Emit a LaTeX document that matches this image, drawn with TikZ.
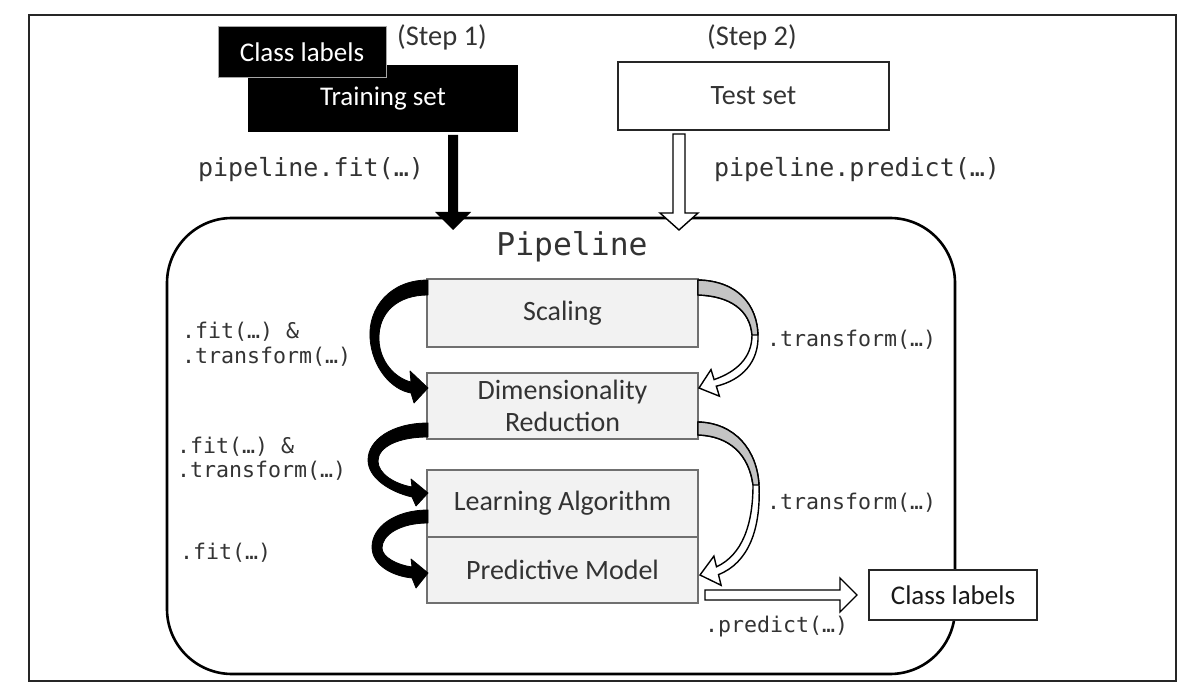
\documentclass[tikz,border=0pt]{standalone}
\usepackage{fontspec}
\setmainfont{Carlito}
\setmonofont{DejaVu Sans Mono}
\usetikzlibrary{calc}
\definecolor{txt}{HTML}{333333}
\definecolor{boxfill}{HTML}{F2F2F2}
\definecolor{boxline}{HTML}{707070}
\definecolor{twistfill}{HTML}{C4C4C4}
\tikzset{
  sanslabel/.style={text=txt, inner sep=0pt, font=\fontsize{28.5}{31}\selectfont},
  stagebox/.style={draw=boxline, fill=boxfill, line width=1.5pt, minimum width=271pt,
     inner sep=0pt, text=txt, font=\fontsize{28}{31}\selectfont, align=center},
  code/.style={font=\ttfamily\fontsize{21.6}{24}\selectfont, text=txt, inner sep=0pt},
  topcode/.style={font=\ttfamily\fontsize{25}{28}\selectfont, text=txt, inner sep=0pt},
  blackarrow/.style={fill=black, draw=black, line width=0.8pt, line join=round},
  hollowarrow/.style={fill=white, draw=black, line width=1.4pt, line join=miter},
  twistpart/.style={fill=twistfill, draw=black, line width=1.4pt, line join=round},
}
\begin{document}
\begin{tikzpicture}[x=1pt,y=-1pt]
\useasboundingbox (0,0) rectangle (1195,692);
% outer frame
\draw[line width=1.6pt, draw=black!85] (29,15) rectangle (1176,681);

% pipeline container
\draw[line width=2.6pt, rounded corners=65pt] (167,218) rectangle (955,674);
\node[font=\ttfamily\fontsize{31.4}{34}\selectfont, text=txt, inner sep=0pt] (pipetitle) at (572,247) {Pipeline};

% input boxes
\node[fill=black, minimum width=270pt, minimum height=67pt, inner sep=0pt, text=white,
      font=\fontsize{27}{29}\selectfont] (train) at (383,98.5) {Training set};
\node[fill=black, draw=black!35, line width=1pt, minimum width=168pt, minimum height=51pt, inner sep=0pt,
      text=white, font=\fontsize{27}{29}\selectfont] (trainlab) at (302,52.5) {Class labels};
\node[sanslabel] (step1) at (442,37) {(Step 1)};

\node[draw=black!85, fill=white, line width=1.6pt, minimum width=271pt, minimum height=68pt, inner sep=0pt,
      text=txt, font=\fontsize{28}{30}\selectfont] (test) at (753.5,96) {Test set};
\node[sanslabel] (step2) at (752,37) {(Step 2)};

\node[topcode] (fitlab) at (311,170) {pipeline.fit(…)};
\node[topcode] (predlab) at (857,170) {pipeline.predict(…)};

% stage boxes
\node[stagebox, minimum height=68pt] (scaling) at (562.5,313) {Scaling};
\node[stagebox, minimum height=66pt] (dimred) at (562.5,406) {Dimensionality\\[1pt]Reduction};
\node[stagebox, minimum height=67pt] (learn) at (562.5,503.5) {Learning Algorithm};
\node[stagebox, minimum height=66pt] (predm) at (562.5,570) {Predictive Model};

% output box
\node[draw=black!85, fill=white, line width=1.6pt, minimum width=168pt, minimum height=50pt, inner sep=0pt,
      text=black!90, font=\fontsize{27}{30}\selectfont] (outlab) at (953,595) {Class labels};

% straight arrows into the pipeline
\coordinate (fitsrc) at (453,135);
\coordinate (fittip) at (453,230);
\fill[black] ($(fitsrc)+(-5,0)$) -- ($(fittip)+(-5,-18)$) -- ($(fittip)+(-18,-18)$) -- (fittip)
   -- ($(fittip)+(18,-18)$) -- ($(fittip)+(5,-18)$) -- ($(fitsrc)+(5,0)$) -- cycle;

\coordinate (predsrc) at (679,134);
\coordinate (predtip) at (679,230);
\draw[hollowarrow] ($(predsrc)+(-6,0)$) -- ($(predtip)+(-6,-17)$) -- ($(predtip)+(-19,-17)$) -- (predtip)
   -- ($(predtip)+(19,-17)$) -- ($(predtip)+(6,-17)$) -- ($(predsrc)+(6,0)$) -- cycle;

% left curved black arrows (fit)
\filldraw[blackarrow] (428,280) .. controls (390,280) and (368,308) .. (370,338)
   .. controls (372,368) and (392,390) .. (411,393) -- (414,403) -- (428,388) -- (410,371) -- (411,382)
   .. controls (395,378) and (380,362) .. (379,340) .. controls (378,312) and (398,295) .. (428,295) -- cycle;
\filldraw[blackarrow] (428,423) .. controls (392,423) and (368,440) .. (368,460)
   .. controls (368,478) and (390,492) .. (412,497) -- (416,506) -- (428,493) -- (411,479) -- (412,487)
   .. controls (395,484) and (378,474) .. (378,461) .. controls (378,447) and (398,437) .. (428,437) -- cycle;
\filldraw[blackarrow] (428,510) .. controls (395,510) and (372,527) .. (372,547)
   .. controls (372,565) and (392,576) .. (412,578) -- (416,588) -- (428,573) -- (411,559) -- (412,567)
   .. controls (397,565) and (382,557) .. (382,548) .. controls (382,535) and (400,523) .. (428,523) -- cycle;

% right curved hollow arrows (transform)
\draw[hollowarrow] (698,280) .. controls (738,281) and (757,305) .. (758,335)
   .. controls (759,362) and (742,380) .. (716.3,386.2) -- (719.4,396.2) -- (699,388) -- (711,369.6) -- (714.1,379.6)
   .. controls (736,372) and (752,358) .. (752,335) .. controls (750,310) and (730,296) .. (698,295) -- cycle;
\draw[twistpart] (698,280) .. controls (738,281) and (757,305) .. (758,335) -- (752,335)
   .. controls (750,310) and (730,296) .. (698,295) -- cycle;

\draw[hollowarrow] (698,422) .. controls (735,423) and (757,450) .. (759,485)
   .. controls (761,530) and (748,563) .. (718.5,574.6) -- (721.1,585.3) -- (700,575) -- (713.9,556.1) -- (716.5,566.8)
   .. controls (742,555) and (753,525) .. (753,485) .. controls (749,455) and (730,436) .. (698,435) -- cycle;
\draw[twistpart] (698,422) .. controls (735,423) and (757,450) .. (759,485) -- (753,485)
   .. controls (749,455) and (730,436) .. (698,435) -- cycle;

% predict arrow to output
\draw[hollowarrow] (705,590) -- (840,590) -- (840,578) -- (857,595) -- (840,612) -- (840,600) -- (705,600) -- cycle;

% method labels
\node[code, anchor=west] (l1a) at (182,332) {.fit(…) \&};
\node[code, anchor=west] (l1b) at (182,357) {.transform(…)};
\node[code, anchor=west] (l2a) at (177,447) {.fit(…) \&};
\node[code, anchor=west] (l2b) at (177,471) {.transform(…)};
\node[code, anchor=west] (l3) at (180,553) {.fit(…)};
\node[code, anchor=west] (r1) at (767,340) {.transform(…)};
\node[code, anchor=west] (r2) at (767,503) {.transform(…)};
\node[code, anchor=west] (pr) at (705,627) {.predict(…)};
\end{tikzpicture}
\end{document}
